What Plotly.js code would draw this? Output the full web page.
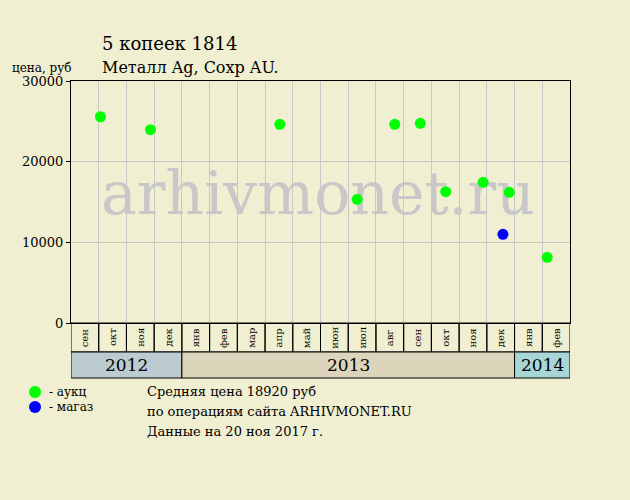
<!DOCTYPE html>
<html><head><meta charset="utf-8">
<script src="https://cdn.plot.ly/plotly-3.0.1.min.js"></script>
<style>html,body{margin:0;padding:0;background:#f0efd1;}</style>
</head><body><div id="chart" style="width:630px;height:500px;"></div>
<script>
// Months shown on the axis (Sep 2012 .. Feb 2014)
const monthLabels = ["сен","окт","ноя","дек","янв","фев","мар","апр","май","июн","июл","авг","сен","окт","ноя","дек","янв","фев"];
const years = ["2012","2013","2014"];
const yearMonthCounts = [4, 12, 2];
const yearColors = ["#bccbcf", "#ddd5bb", "#a8d5d5"];
const startYear = 2012, startMonth = 9;

// Auction sales (green)
const auctionDates = ["2012-10-03","2012-11-27","2013-04-17","2013-07-11","2013-08-22","2013-09-19","2013-10-17","2013-11-27","2013-12-26","2014-02-06"];
const auctionPrices = [25570, 23960, 24630, 15330, 24630, 24750, 16280, 17440, 16200, 8140];
// Shop sales (blue)
const shopDates = ["2013-12-19"];
const shopPrices = [11000];

const yTicks = [0, 10000, 20000, 30000];

function pos(d) {
  const [y, m, day] = d.split("-").map(Number);
  const dim = new Date(y, m, 0).getDate();
  return (y - startYear) * 12 + (m - startMonth) + (day - 1) / dim;
}

const FONT = "DejaVu Serif, Liberation Serif, serif";
const nM = monthLabels.length;

// pixel helpers for the plot frame (plot area 71..570 x 81..323)
function px(x) { return (x - 71) / 499; }
function py(y) { return (323 - y) / 242; }

const traces = [
  // watermark behind the points
  {x: [nM * 0.495], y: [15400], mode: "text", type: "scatter", text: ["arhivmonet.ru"],
   textfont: {family: FONT, size: 60, color: "#c8c8c8"}, textposition: "middle center", hoverinfo: "skip"},
  {x: auctionDates.map(pos), y: auctionPrices, mode: "markers", type: "scatter",
   marker: {color: "#00ff00", size: 11}, hoverinfo: "skip"},
  {x: shopDates.map(pos), y: shopPrices, mode: "markers", type: "scatter",
   marker: {color: "#0000ff", size: 11}, hoverinfo: "skip"}
];

const shapes = [];
const annotations = [];
const mTop = 0, mBot = py(352), yBot = py(378);
// month row
for (let i = 0; i < nM; i++) {
  shapes.push({type: "rect", xref: "x", yref: "paper", x0: i, x1: i + 1, y0: mBot, y1: mTop,
    line: {color: "#000", width: 1}, fillcolor: "rgba(0,0,0,0)"});
  annotations.push({xref: "x", yref: "paper", x: i + 0.5, y: (mTop + mBot) / 2, text: monthLabels[i],
    showarrow: false, textangle: -90, xanchor: "center", yanchor: "middle",
    font: {family: FONT, size: 10, color: "#000"}});
}
// year row
let acc = 0;
years.forEach((yr, k) => {
  const x0 = acc, x1 = acc + yearMonthCounts[k];
  shapes.push({type: "rect", xref: "x", yref: "paper", x0: x0, x1: x1, y0: yBot, y1: mBot,
    line: {color: "#000", width: 1}, fillcolor: yearColors[k]});
  annotations.push({xref: "x", yref: "paper", x: (x0 + x1) / 2, y: (mBot + yBot) / 2, text: yr,
    showarrow: false, xanchor: "center", yanchor: "middle", font: {family: FONT, size: 17, color: "#000"}});
  acc = x1;
});

annotations.push(
  {xref: "paper", yref: "paper", x: px(100), y: py(44), xanchor: "left", yanchor: "middle", showarrow: false,
   text: "5 копеек 1814", font: {family: FONT, size: 18, color: "#000"}},
  {xref: "paper", yref: "paper", x: px(100), y: py(67), xanchor: "left", yanchor: "middle", showarrow: false,
   text: "Металл Ag, Сохр AU.", font: {family: FONT, size: 16, color: "#000"}},
  {xref: "paper", yref: "paper", x: px(10), y: py(68), xanchor: "left", yanchor: "middle", showarrow: false,
   text: "цена, руб", font: {family: FONT, size: 12, color: "#000"}},
  {xref: "paper", yref: "paper", x: px(47), y: py(392), xanchor: "left", yanchor: "middle", showarrow: false,
   text: "- аукц", font: {family: FONT, size: 12, color: "#000"}},
  {xref: "paper", yref: "paper", x: px(47), y: py(407), xanchor: "left", yanchor: "middle", showarrow: false,
   text: "- магаз", font: {family: FONT, size: 12, color: "#000"}},
  {xref: "paper", yref: "paper", x: px(145), y: py(391), xanchor: "left", yanchor: "middle", showarrow: false,
   text: "Средняя цена 18920 руб", font: {family: FONT, size: 13, color: "#000"}},
  {xref: "paper", yref: "paper", x: px(145), y: py(411), xanchor: "left", yanchor: "middle", showarrow: false,
   text: "по операциям сайта ARHIVMONET.RU", font: {family: FONT, size: 13, color: "#000"}},
  {xref: "paper", yref: "paper", x: px(145), y: py(431), xanchor: "left", yanchor: "middle", showarrow: false,
   text: "Данные на 20 ноя 2017 г.", font: {family: FONT, size: 13, color: "#000"}}
);
// legend markers
shapes.push(
  {type: "circle", xref: "paper", yref: "paper", x0: px(29), x1: px(41), y0: py(398), y1: py(386),
   fillcolor: "#00ff00", line: {width: 0}},
  {type: "circle", xref: "paper", yref: "paper", x0: px(29), x1: px(41), y0: py(413), y1: py(401),
   fillcolor: "#0000ff", line: {width: 0}}
);

const layout = {
  width: 630, height: 500,
  margin: {l: 71, r: 60, t: 81, b: 177},
  paper_bgcolor: "#f0efd1", plot_bgcolor: "#f0efd1",
  showlegend: false,
  xaxis: {range: [0, nM], tickvals: Array.from({length: nM + 1}, (_, i) => i), showticklabels: false,
    ticks: "", showgrid: true, gridcolor: "#c8c8c8", gridwidth: 1, zeroline: false,
    showline: true, linecolor: "#000", linewidth: 1, mirror: true, fixedrange: true},
  yaxis: {range: [0, 30000], tickvals: yTicks, ticktext: yTicks.map(String), ticks: "outside", ticklen: 4,
    tickcolor: "#000", showgrid: true, gridcolor: "#c8c8c8", zeroline: false,
    showline: true, linecolor: "#000", linewidth: 1, mirror: true,
    tickfont: {family: FONT, size: 13, color: "#000"}, fixedrange: true},
  shapes: shapes,
  annotations: annotations
};

Plotly.newPlot("chart", traces, layout, {displayModeBar: false, staticPlot: true});
</script>
</body></html>
